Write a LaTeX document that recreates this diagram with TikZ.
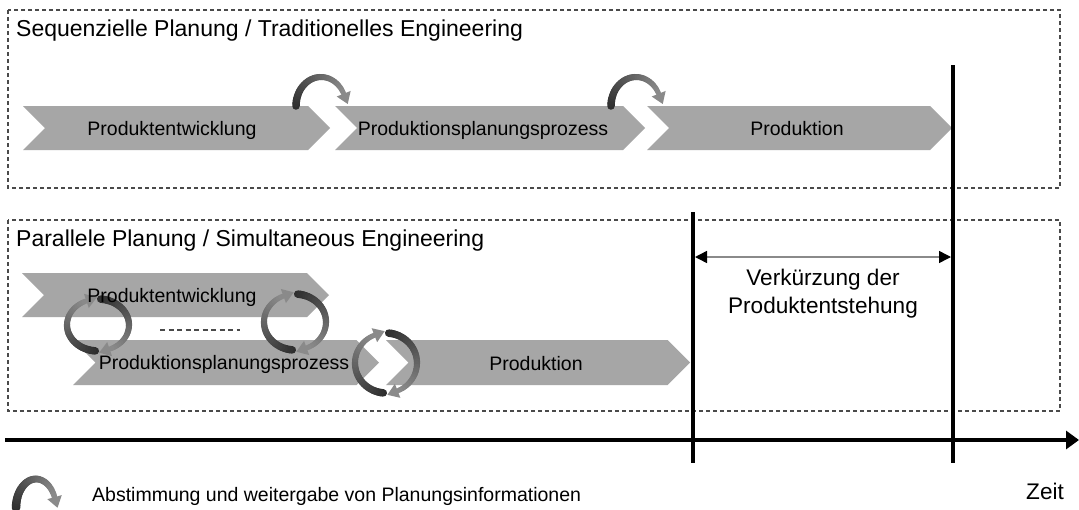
\documentclass[tikz,border=0pt]{standalone}
\usepackage{fontspec}
\setmainfont{Liberation Sans}
\usetikzlibrary{arrows.meta}

\definecolor{bandgray}{HTML}{A6A6A6}
\definecolor{arcdark}{HTML}{2E2E2E}
\definecolor{arclight}{HTML}{8A8A8A}
\definecolor{framegray}{HTML}{4A4A4A}

% chevron band: left x, tip x, centre y, half height (y grows downwards)
\newcommand{\chevband}[4]{%
  \fill[bandgray] (#1,{#3-#4}) -- ({#2-#4},{#3-#4}) -- (#2,#3)
    -- ({#2-#4},{#3+#4}) -- (#1,{#3+#4}) -- ({#1+#4},#3) -- cycle;}

% clockwise elliptic arrow with a dark-to-light gradient
% centre x, centre y, x radius, y radius, start angle, end angle, start width, end width
\newcommand{\loopArrow}[8]{%
  \foreach \k in {0,...,29}{%
    \pgfmathsetmacro{\lpA}{#5+(#6-#5)*\k/30}%
    \pgfmathsetmacro{\lpB}{#5+(#6-#5)*(\k+1)/30}%
    \pgfmathtruncatemacro{\lpMix}{100-100*\k/29}%
    \pgfmathsetmacro{\lpW}{#7+(#8-#7)*\k/29}%
    \draw[line width=\lpW pt, draw=arcdark!\lpMix!arclight, line cap=round]
      ({#1+#3*cos(\lpA)},{#2-#4*sin(\lpA)}) -- ({#1+#3*cos(\lpB)},{#2-#4*sin(\lpB)});
  }%
  \pgfmathsetmacro{\lpEx}{#1+#3*cos(#6)}%
  \pgfmathsetmacro{\lpEy}{#2-#4*sin(#6)}%
  \pgfmathsetmacro{\lpTx}{#3*sin(#6)}%
  \pgfmathsetmacro{\lpTy}{#4*cos(#6)}%
  \pgfmathsetmacro{\lpTl}{veclen(\lpTx,\lpTy)}%
  \pgfmathsetmacro{\lpUx}{\lpTx/\lpTl}%
  \pgfmathsetmacro{\lpUy}{\lpTy/\lpTl}%
  \fill[arclight] ({\lpEx-\lpUy*7.5},{\lpEy+\lpUx*7.5})
    -- ({\lpEx+\lpUx*11},{\lpEy+\lpUy*11})
    -- ({\lpEx+\lpUy*7.5},{\lpEy-\lpUx*7.5}) -- cycle;
}

\tikzset{
  phasebox/.style={draw=framegray, line width=1.1pt, dash pattern=on 4pt off 3pt},
  titletext/.style={anchor=base west, inner sep=0pt, font=\fontsize{23}{27}\selectfont},
  bandtext/.style={anchor=base, inner sep=0pt, font=\fontsize{19.5}{23}\selectfont},
  bigtext/.style={anchor=base, inner sep=0pt, font=\fontsize{22.6}{27}\selectfont},
  legendtext/.style={anchor=base west, inner sep=0pt, font=\fontsize{19.5}{23}\selectfont},
  timeline/.style={line width=4pt},
}

\begin{document}
\begin{tikzpicture}[x=1pt,y=-1pt]
\useasboundingbox (0,0) rectangle (1079,509);
\fill[white] (0,0) rectangle (1079,509);

% frames of the two planning approaches
\draw[phasebox] (8,10) rectangle (1060,188);
\draw[phasebox] (8,220) rectangle (1060,411);
\node[titletext] (seqtitle) at (16,36) {Sequenzielle Planung / Traditionelles Engineering};
\node[titletext] (partitle) at (16,246) {Parallele Planung / Simultaneous Engineering};

% sequential chain
\chevband{23}{330}{128}{22}
\chevband{335}{645}{128}{22}
\chevband{647}{952}{128}{22}
\loopArrow{321}{106}{25}{29}{180}{25}{7.5}{5}
\loopArrow{636}{106}{25}{29}{180}{25}{7.5}{5}
\node[bandtext] (seqpe) at (172,135) {Produktentwicklung};
\node[bandtext] (seqpp) at (483,135) {Produktionsplanungsprozess};
\node[bandtext] (seqpr) at (797,135) {Produktion};

% parallel chain
\chevband{22}{329}{295}{22}
\chevband{73}{379}{362.5}{22.5}
\chevband{386}{690}{362.5}{22.5}
\coordinate (gapL) at (160,330);
\coordinate (gapR) at (240,330);
\draw[framegray, line width=1.5pt, dash pattern=on 5pt off 3.5pt] (gapL) -- (gapR);
\loopArrow{98}{325}{31}{26}{265}{112}{7.5}{5}
\loopArrow{98}{325}{31}{26}{85}{-68}{7.5}{5}
\loopArrow{295}{322}{31}{28}{265}{112}{7.5}{5}
\loopArrow{295}{322}{31}{28}{85}{-68}{7.5}{5}
\loopArrow{386}{363}{31}{30}{265}{112}{7.5}{5}
\loopArrow{386}{363}{31}{30}{85}{-68}{7.5}{5}
\node[bandtext] (parpe) at (172,302) {Produktentwicklung};
\node[bandtext] (parpp) at (224,369) {Produktionsplanungsprozess};
\node[bandtext] (parpr) at (536,370) {Produktion};

% time axis and end-of-project markers
\coordinate (t0) at (5,440);
\coordinate (t1) at (1079,440);
\coordinate (seqTop) at (953,65);
\coordinate (seqBot) at (953,463);
\coordinate (parTop) at (693,212);
\coordinate (parBot) at (693,463);
\draw[timeline] (seqTop) -- (seqBot);
\draw[timeline] (parTop) -- (parBot);
\draw[timeline, -{Triangle[length=13pt,width=18pt]}] (t0) -- (t1);
\node[bigtext, anchor=base west] (zeit) at (1026,499) {Zeit};

% shortening of the product development time
\coordinate (dA) at (695,257);
\coordinate (dB) at (951,257);
\draw[arclight, line width=1.5pt, {Triangle[length=12pt,width=12pt,color=black]}-{Triangle[length=12pt,width=12pt,color=black]}] (dA) -- (dB);
\node[bigtext] (verk1) at (823,285) {Verkürzung der};
\node[bigtext] (verk2) at (823,313) {Produktentstehung};

% legend
\loopArrow{36}{508}{20}{29}{180}{22}{8.5}{5.5}
\node[legendtext] (legend) at (92,501) {Abstimmung und weitergabe von Planungsinformationen};
\end{tikzpicture}
\end{document}
